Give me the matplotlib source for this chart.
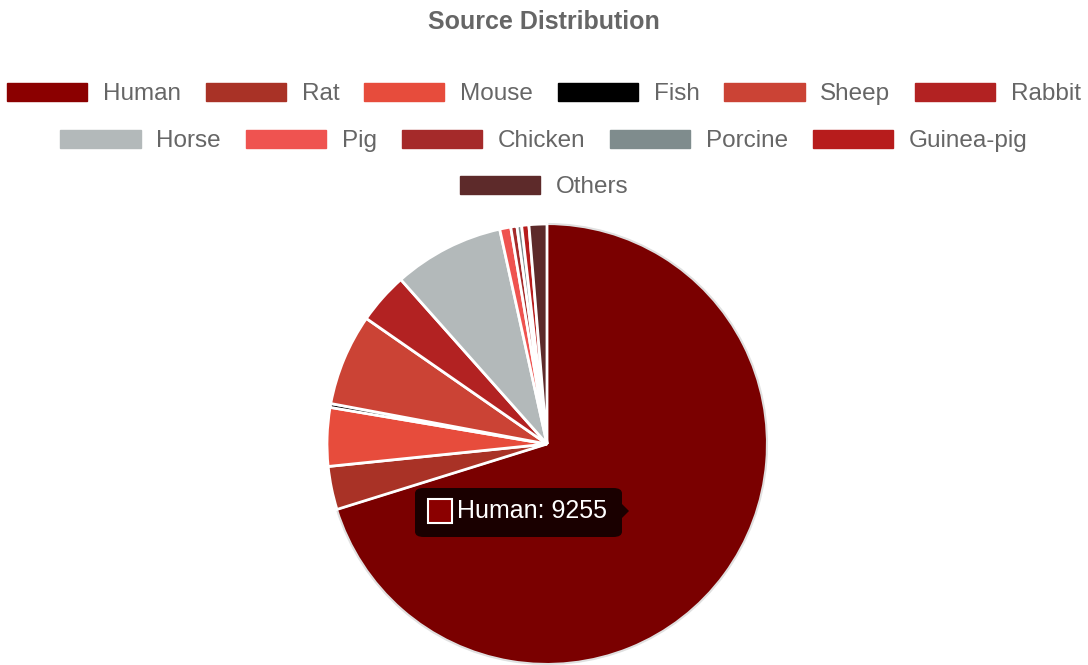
import matplotlib.pyplot as plt
from matplotlib.patches import FancyBboxPatch, Rectangle, Patch, Polygon

plt.rcParams['font.family'] = ['Liberation Sans', 'DejaVu Sans']

# data
sources = ["Human", "Rat", "Mouse", "Fish", "Sheep", "Rabbit",
           "Horse", "Pig", "Chicken", "Porcine", "Guinea-pig", "Others"]
counts = [9255, 419, 566, 37, 886, 497, 1070, 107, 60, 45, 70, 173]
colors = ["#8B0000", "#A93226", "#E74C3C", "#000000", "#CB4335", "#B22222",
          "#B3B9BA", "#EF5350", "#A52A2A", "#7F8C8D", "#B71C1C", "#5D2A2A"]
legend_rows = [sources[0:6], sources[6:11], sources[11:]]

W, H = 1088, 665
fig = plt.figure(figsize=(W / 100, H / 100), dpi=100)

# pie: centre (547, 444) px, radius 220 px
cx, cy, r = 547, 444, 220
ax = fig.add_axes([(cx - r) / W, (H - cy - r) / H, 2 * r / W, 2 * r / H])
pie_colors = list(colors)
pie_colors[0] = "#7A0000"  # hovered slice is a touch darker
wedges, _ = ax.pie(counts, colors=pie_colors, startangle=90, counterclock=False,
                   radius=1, wedgeprops=dict(edgecolor="white", linewidth=2))
wedges[0].set_edgecolor("#e0e0e0")
wedges[0].set_linewidth(1.5)
for w in wedges:
    w.set_clip_on(False)
ax.set_xlim(-1, 1)
ax.set_ylim(-1, 1)
ax.set_aspect("equal")
ax.axis("off")

fig.text(0.5, 1 - 22 / H, "Source Distribution", ha="center", va="center",
         fontsize=18, fontweight="bold", color="#666666")

# legend, three centred rows like chart.js
row_y = [94, 141, 187]
for names, y in zip(legend_rows, row_y):
    handles = [Patch(facecolor=colors[sources.index(n)], edgecolor=colors[sources.index(n)],
                     label=n) for n in names]
    leg = fig.legend(handles=handles, loc="center", bbox_to_anchor=(0.5, 1 - y / H),
                     ncol=len(names), frameon=False, fontsize=17.5,
                     handlelength=3.3, handleheight=0.8, handletextpad=0.65,
                     columnspacing=1.02, borderpad=0, borderaxespad=0)
    for t in leg.get_texts():
        t.set_color("#666666")

# tooltip for the hovered slice
def px(x, y):
    return (x / W, 1 - y / H)

tip = FancyBboxPatch(px(415, 537), 207 / W, 49 / H, boxstyle="round,pad=0,rounding_size=0.008",
                     transform=fig.transFigure, facecolor="#1a0000", edgecolor="none", zorder=5)
fig.patches.append(tip)
caret = Polygon([px(622, 504), px(629, 511), px(622, 518)], closed=True,
                transform=fig.transFigure, facecolor="#1a0000", edgecolor="none", zorder=5)
fig.patches.append(caret)
sw = Rectangle(px(428, 523), 24 / W, 24 / H, transform=fig.transFigure,
               facecolor=colors[0], edgecolor="white", linewidth=1.5, zorder=6)
fig.patches.append(sw)
fig.text(457 / W, 1 - 511 / H, f"{sources[0]}: {counts[0]}", ha="left", va="center",
         fontsize=18, color="white", zorder=7)

fig.savefig("out.png", dpi=100)
